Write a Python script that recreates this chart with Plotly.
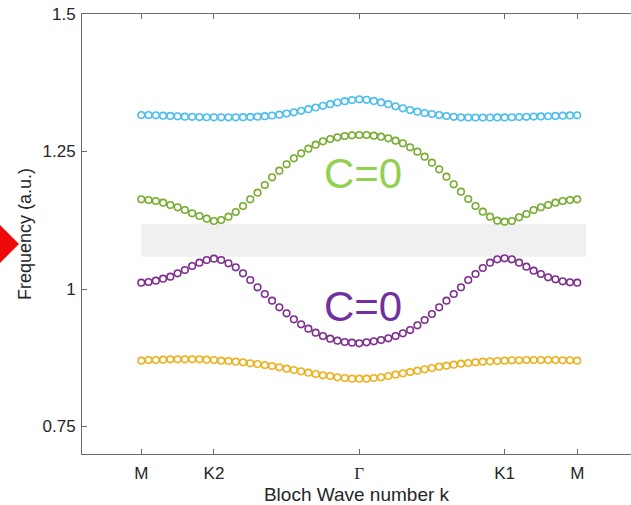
import plotly.graph_objects as go

# k-path sample index (M -> K2 -> Gamma -> K1 -> M), 61 samples
k_index = list(range(61))
tick_pos = [0, 10, 30, 50, 60]
tick_labels = ["M", "K2", "<span style='font-family:Liberation Serif, serif'>Γ</span>", "K1", "M"]

band4 = [1.3164, 1.3162, 1.3158, 1.3152, 1.3146, 1.3140, 1.3134, 1.3130, 1.3126, 1.3123,
         1.3122, 1.3121, 1.3121, 1.3122, 1.3124, 1.3128, 1.3134, 1.3143, 1.3155, 1.3170,
         1.3190, 1.3213, 1.3240, 1.3270, 1.3300, 1.3330, 1.3360, 1.3390, 1.3415, 1.3435,
         1.3448, 1.3440, 1.3420, 1.3392, 1.3360, 1.3322, 1.3285, 1.3254, 1.3224, 1.3200,
         1.3182, 1.3162, 1.3145, 1.3130, 1.3121, 1.3118, 1.3118, 1.3118, 1.3118, 1.3119,
         1.3120, 1.3123, 1.3127, 1.3131, 1.3135, 1.3138, 1.3141, 1.3147, 1.3152, 1.3156,
         1.3158]

band3 = [1.1630, 1.1618, 1.1600, 1.1570, 1.1527, 1.1485, 1.1436, 1.1376, 1.1327, 1.1279,
         1.1236, 1.1255, 1.1315, 1.1400, 1.1509, 1.1630, 1.1752, 1.1891, 1.2030, 1.2152,
         1.2267, 1.2376, 1.2467, 1.2552, 1.2624, 1.2685, 1.2727, 1.2758, 1.2782, 1.2794,
         1.2800, 1.2800, 1.2788, 1.2770, 1.2740, 1.2697, 1.2649, 1.2576, 1.2497, 1.2406,
         1.2297, 1.2176, 1.2043, 1.1903, 1.1770, 1.1636, 1.1509, 1.1406, 1.1315, 1.1242,
         1.1224, 1.1236, 1.1303, 1.1364, 1.1436, 1.1485, 1.1527, 1.1570, 1.1600, 1.1618,
         1.1630]

band2 = [1.0115, 1.0127, 1.0152, 1.0188, 1.0224, 1.0285, 1.0345, 1.0418, 1.0479, 1.0527,
         1.0551, 1.0527, 1.0467, 1.0394, 1.0285, 1.0164, 1.0030, 0.9909, 0.9788, 0.9667,
         0.9558, 0.9448, 0.9358, 0.9279, 0.9206, 0.9145, 0.9097, 0.9061, 0.9036, 0.9024,
         0.9012, 0.9030, 0.9048, 0.9073, 0.9103, 0.9145, 0.9194, 0.9254, 0.9339, 0.9436,
         0.9545, 0.9667, 0.9788, 0.9909, 1.0030, 1.0164, 1.0273, 1.0382, 1.0479, 1.0539,
         1.0558, 1.0539, 1.0479, 1.0406, 1.0333, 1.0273, 1.0212, 1.0176, 1.0140, 1.0121,
         1.0115]

band1 = [0.8697, 0.8709, 0.8709, 0.8715, 0.8721, 0.8721, 0.8721, 0.8721, 0.8721, 0.8715,
         0.8709, 0.8697, 0.8691, 0.8679, 0.8667, 0.8648, 0.8636, 0.8618, 0.8600, 0.8576,
         0.8552, 0.8527, 0.8503, 0.8479, 0.8455, 0.8430, 0.8418, 0.8394, 0.8382, 0.8370,
         0.8370, 0.8370, 0.8382, 0.8394, 0.8418, 0.8442, 0.8467, 0.8491, 0.8515, 0.8540,
         0.8564, 0.8588, 0.8606, 0.8624, 0.8642, 0.8655, 0.8667, 0.8679, 0.8685, 0.8691,
         0.8697, 0.8703, 0.8703, 0.8709, 0.8709, 0.8709, 0.8709, 0.8709, 0.8703, 0.8703,
         0.8697]

gap_lo, gap_hi = 1.0587, 1.118
gap_k_start, gap_k_end = 0, 61.2

series = [
    (band4, "#4DBEEE"),
    (band3, "#77AC30"),
    (band2, "#7E2F8E"),
    (band1, "#EDB120"),
]

fig = go.Figure()
for vals, col in series:
    fig.add_trace(go.Scatter(
        x=k_index, y=vals, mode="markers",
        marker=dict(symbol="circle-open", size=6.6, color=col, line=dict(width=1.6, color=col)),
        showlegend=False, hoverinfo="skip"))

fig.add_shape(type="rect", xref="x", yref="y", x0=gap_k_start, x1=gap_k_end,
              y0=gap_lo, y1=gap_hi, fillcolor="#F0F0F0", line=dict(width=0), layer="below")

# decorative red diamond cut at left edge
fig.add_shape(type="path", xref="paper", yref="paper", xsizemode="pixel", ysizemode="pixel",
              xanchor=-0.1494, yanchor=0.4773,
              path="M -2 -21 L 19 0 L -2 21 L -23 0 Z",
              fillcolor="#EE0A0A", line=dict(width=0), layer="above")

fig.add_annotation(x=30.45, y=1.2104, xref="x", yref="y", text="C=0", showarrow=False,
                   font=dict(family="Liberation Sans, Arial", size=42, color="#92D050"))
fig.add_annotation(x=30.45, y=0.969, xref="x", yref="y", text="C=0", showarrow=False,
                   font=dict(family="Liberation Sans, Arial", size=42, color="#7030A0"))

axis_col = "#6b6b6b"
fig.update_layout(
    width=631, height=505,
    margin=dict(l=82, r=0, t=14, b=51),
    paper_bgcolor="white", plot_bgcolor="white",
    font=dict(family="Liberation Sans, Arial", color="#262626", size=17),
    xaxis=dict(range=[-8.16, 67.4], tickvals=tick_pos, ticktext=tick_labels,
               showgrid=False, zeroline=False, showline=True, linecolor=axis_col, linewidth=1,
               mirror="ticks", ticks="inside", ticklen=5, tickcolor=axis_col,
               tickfont=dict(size=17, color="#262626"), ticklabelstandoff=4,
               title=dict(text="Bloch Wave number k", font=dict(size=19, color="#262626"), standoff=5)),
    yaxis=dict(range=[0.7, 1.5], tickvals=[0.75, 1, 1.25, 1.5], ticktext=["0.75", "1", "1.25", "1.5"],
               showgrid=False, zeroline=False, showline=True, linecolor=axis_col, linewidth=1,
               mirror=False, ticks="inside", ticklen=5, tickcolor=axis_col,
               tickfont=dict(size=17, color="#262626"), ticklabelstandoff=2,
               title=dict(text="Frequency (a.u.)", font=dict(size=18, color="#262626"), standoff=6)),
)

fig.write_html("out.html")
